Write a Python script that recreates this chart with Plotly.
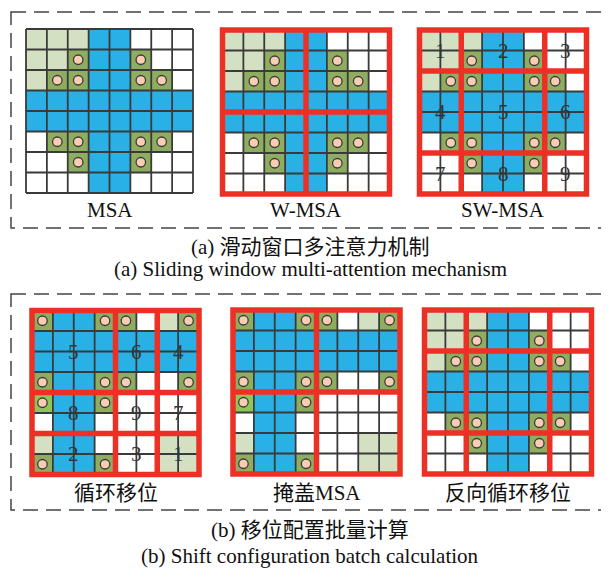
import plotly.graph_objects as go

# ---------------- data ----------------
msa_pattern = [
    "LLLBBWWW",
    "LLGBBGWW",
    "LGGBBGGW",
    "BBBBBBBB",
    "BBBBBBBB",
    "WGGBBGGW",
    "WWGBBGWW",
    "WWWBBWWW",
]
shifted_pattern = [
    "GBBGGWLG",
    "BBBBBBBB",
    "BBBBBBBB",
    "GBBGGWWG",
    "gBBGWWWW",
    "WBBWWWWW",
    "LBBWWWLL",
    "GBBGWWLL",
]
top_labels = ["MSA", "W-MSA", "SW-MSA"]
bottom_labels = ["循环移位", "掩盖MSA", "反向循环移位"]
caption_a_cn = "(a) 滑动窗口多注意力机制"
caption_a_en = "(a) Sliding window multi-attention mechanism"
caption_b_cn = "(b) 移位配置批量计算"
caption_b_en = "(b) Shift configuration batch calculation"
sw_numbers = [["1", "2", "3"], ["4", "5", "6"], ["7", "8", "9"]]
cyclic_numbers = [["5", "6", "4"], ["8", "9", "7"], ["2", "3", "1"]]
w_splits = [4]
sw_splits = [2, 6]
cyc_splits = [4, 6]

# ---------------- style ----------------
cell_codes = {"W": 0, "L": 1, "G": 2, "g": 3, "B": 4}
C_WHITE = "#ffffff"
C_LIGHT = "#d3e0c2"
C_GREEN = "#8fad60"
C_BRIGHT = "#8fc65a"
C_BLUE = "#29b1e6"
C_LINE = "#3a3a3a"
C_RED = "#ec3026"
C_DOT = "#f8cdb3"
SERIF = "Liberation Serif, Times New Roman, Noto Sans CJK SC, serif"

colorscale = [
    [0.0, C_WHITE], [0.2, C_WHITE],
    [0.2, C_LIGHT], [0.4, C_LIGHT],
    [0.4, C_GREEN], [0.6, C_GREEN],
    [0.6, C_BRIGHT], [0.8, C_BRIGHT],
    [0.8, C_BLUE], [1.0, C_BLUE],
]

GW, GH = 167.0, 164.0
N = 8
PAGE_W, PAGE_H, BODY_MARGIN = 609, 568, 8

panels = [
    dict(pattern=msa_pattern, x=26, y=29, splits=None, numbers=None, label=top_labels[0], ly=210),
    dict(pattern=msa_pattern, x=222.5, y=30, splits=w_splits, numbers=None, label=top_labels[1], ly=210),
    dict(pattern=msa_pattern, x=419.5, y=30, splits=sw_splits, numbers=sw_numbers, label=top_labels[2], ly=210),
    dict(pattern=shifted_pattern, x=32, y=310.5, splits=cyc_splits, numbers=cyclic_numbers, label=bottom_labels[0], ly=493),
    dict(pattern=shifted_pattern, x=233, y=310, splits=w_splits, numbers=None, label=bottom_labels[1], ly=493),
    dict(pattern=msa_pattern, x=424.5, y=310, splits=sw_splits, numbers=None, label=bottom_labels[2], ly=493),
]

fig = go.Figure()
shapes = []
annotations = []

for p in panels:
    cw, ch = GW / N, GH / N
    x0, y0 = p["x"], p["y"]
    z = [[cell_codes[c] for c in row] for row in p["pattern"]]
    fig.add_trace(go.Heatmap(
        z=z, x0=x0 + cw / 2, dx=cw, y0=y0 + ch / 2, dy=ch,
        colorscale=colorscale, zmin=-0.5, zmax=4.5, showscale=False,
        hoverinfo="skip",
    ))
    # dots on green cells
    dx, dy = [], []
    for r, row in enumerate(p["pattern"]):
        for c, v in enumerate(row):
            if v in "Gg":
                dx.append(x0 + (c + 0.5) * cw)
                dy.append(y0 + (r + 0.5) * ch)
    fig.add_trace(go.Scatter(
        x=dx, y=dy, mode="markers", hoverinfo="skip",
        marker=dict(size=9.5, color=C_DOT, line=dict(color=C_LINE, width=1.3)),
    ))
    # grid lines
    for i in range(N + 1):
        shapes.append(dict(type="line", x0=x0 + i * cw, x1=x0 + i * cw, y0=y0, y1=y0 + GH,
                           line=dict(color=C_LINE, width=1.8)))
        shapes.append(dict(type="line", x0=x0, x1=x0 + GW, y0=y0 + i * ch, y1=y0 + i * ch,
                           line=dict(color=C_LINE, width=1.8)))
    if p["splits"] is not None:
        for s in p["splits"]:
            shapes.append(dict(type="line", x0=x0 + s * cw, x1=x0 + s * cw, y0=y0, y1=y0 + GH,
                               line=dict(color=C_RED, width=5.5)))
            shapes.append(dict(type="line", x0=x0, x1=x0 + GW, y0=y0 + s * ch, y1=y0 + s * ch,
                               line=dict(color=C_RED, width=5.5)))
        shapes.append(dict(type="rect", x0=x0, x1=x0 + GW, y0=y0, y1=y0 + GH,
                           line=dict(color=C_RED, width=5.5)))
    if p["numbers"] is not None:
        b = [0] + p["splits"] + [N]
        for i in range(len(b) - 1):
            for j in range(len(b) - 1):
                annotations.append(dict(
                    x=x0 + (b[j] + b[j + 1]) / 2 * cw, y=y0 + (b[i] + b[i + 1]) / 2 * ch,
                    text=p["numbers"][i][j], showarrow=False,
                    font=dict(family=SERIF, size=21, color="#333333"),
                    xanchor="center", yanchor="middle"))
    annotations.append(dict(x=x0 + GW / 2, y=p["ly"], text=p["label"], showarrow=False,
                            font=dict(family=SERIF, size=21, color="#111111"),
                            xanchor="center", yanchor="middle"))

# dashed frames
for (ya, yb) in [(12, 228), (294, 510)]:
    shapes.append(dict(type="rect", x0=11, x1=606.5, y0=ya, y1=yb, layer="below",
                       line=dict(color="#444444", width=1.5, dash="15px,8px")))

for text, y in [(caption_a_cn, 247), (caption_a_en, 269), (caption_b_cn, 530), (caption_b_en, 556)]:
    annotations.append(dict(x=310, y=y, text=text, showarrow=False,
                            font=dict(family=SERIF, size=21, color="#111111"),
                            xanchor="center", yanchor="middle"))

# the page body keeps an 8px margin, so the figure is sized/offset to keep
# data coordinates equal to page pixels
fig.update_layout(
    width=PAGE_W - BODY_MARGIN, height=PAGE_H - BODY_MARGIN,
    margin=dict(l=0, r=0, t=0, b=0),
    paper_bgcolor="white", plot_bgcolor="white", showlegend=False,
    xaxis=dict(range=[BODY_MARGIN, PAGE_W], visible=False, fixedrange=True),
    yaxis=dict(range=[PAGE_H, BODY_MARGIN], visible=False, fixedrange=True),
    shapes=shapes, annotations=annotations,
)
fig.write_html("out.html")
